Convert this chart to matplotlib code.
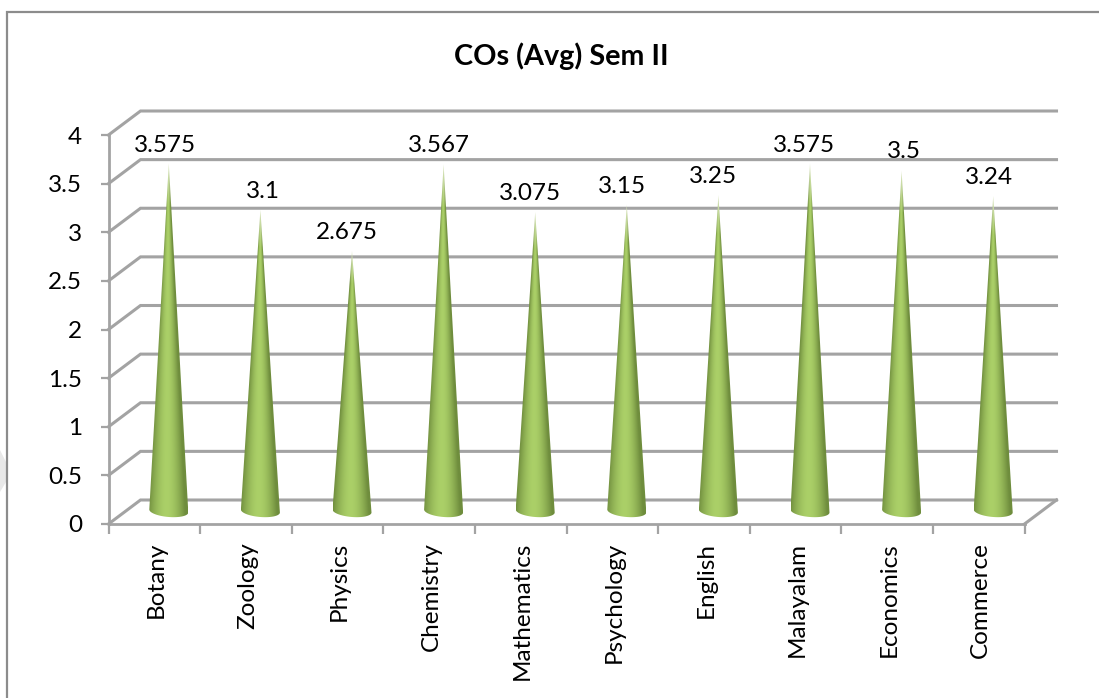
import numpy as np
import matplotlib
matplotlib.use("Agg")
import matplotlib.pyplot as plt
from matplotlib.lines import Line2D
from matplotlib.patches import Polygon
from matplotlib.colors import to_rgb
from matplotlib.transforms import ScaledTranslation

subjects = ["Botany", "Zoology", "Physics", "Chemistry", "Mathematics",
            "Psychology", "English", "Malayalam", "Economics", "Commerce"]
values = [3.575, 3.1, 2.675, 3.567, 3.075, 3.15, 3.25, 3.575, 3.5, 3.24]
value_labels = ["3.575", "3.1", "2.675", "3.567", "3.075", "3.15", "3.25", "3.575", "3.5", "3.24"]
yticks = [0, 0.5, 1, 1.5, 2, 2.5, 3, 3.5, 4]
ytick_labels = ["0", "0.5", "1", "1.5", "2", "2.5", "3", "3.5", "4"]

W, H = 1099, 698
GREY = "#a3a3a3"
plt.rcParams["font.family"] = ["Lato", "DejaVu Sans"]

fig = plt.figure(figsize=(W / 100, H / 100), dpi=100, facecolor="white")
ax = fig.add_axes([108.5 / W, 1 - 524 / H, 916 / W, 389 / H])
ax.set_xlim(0, 10)
ax.set_ylim(0, 4)
ax.patch.set_visible(False)

# depth of the fake 3d box, in data units
depth_x = 32 / 91.6
depth_y = 24 / 97.25


def fig_line(xs, ys, **kw):
    fig.add_artist(Line2D([x / W for x in xs], [1 - y / H for y in ys], **kw))


# outer chart border, only left and top show
fig_line([7, 7, 1099], [698, 12, 12], color="#8c8c8c", lw=1.6, solid_joinstyle="miter")
fig.add_artist(Polygon([(0, 1 - 450 / H), (6 / W, 1 - 462 / H), (6 / W, 1 - 482 / H), (0, 1 - 492 / H)],
                       closed=True, transform=fig.transFigure, fc="#e8e8e8", ec="none"))

# back wall and side wall
for v in yticks:
    ax.plot([0, depth_x, 10 + depth_x], [v, v + depth_y, v + depth_y], color=GREY, lw=2.2,
            clip_on=False, solid_joinstyle="miter", zorder=1)
ax.plot([10, 10 + depth_x], [0, depth_y], color=GREY, lw=2.2, clip_on=False, zorder=1)

# cones
edge = np.array(to_rgb("#6f8d3d"))
mid = np.array(to_rgb("#abd068"))
half_w = 19.5 / 91.6
ry = 6 / 97.25
tilt = 1.5 / 97.25
base_y = 13 / 97.25
cone_shift = depth_x / 2 - 1.5 / 91.6
for i, v in enumerate(values):
    cx = i + 0.5 + cone_shift
    tip = base_y + v
    t = np.linspace(np.pi, 2 * np.pi, 40)
    arc_x = cx + half_w * np.cos(t)
    arc_y = base_y + ry * np.sin(t) - tilt * np.cos(t)
    poly = Polygon(np.vstack([[cx, tip], np.column_stack([arc_x, arc_y])]), closed=True,
                   transform=ax.transData, fc="none", ec="none")
    ax.add_patch(poly)
    # horizontal shading scaled to the cone width on each row
    rows = np.linspace(1, 0, 400)[:, None]
    cols = np.linspace(-1, 1, 120)[None, :]
    local = np.clip(1 - rows, 0.004, 1)
    u = np.clip(np.abs(cols / local + 0.1), 0, 1) ** 1.8
    img = mid[None, None, :] * (1 - u[..., None]) + edge[None, None, :] * u[..., None]
    fade = np.clip((1 - rows) / 0.12, 0, 1)[..., None]
    img = img * fade + np.array([0.88, 0.92, 0.78]) * (1 - fade)
    im = ax.imshow(img, extent=[cx - half_w, cx + half_w, -0.02, tip], aspect="auto",
                   interpolation="bilinear", zorder=3)
    im.set_clip_path(poly)

ax.set_xlim(0, 10)
ax.set_ylim(0, 4)

# value labels sit just above the tips
nudge_x = [-3.5, 2.5, -5.5, -4.5, -5.5, -4.5, -5.5, -6.5, 2.5, -4.5]
nudge_y = [0, 0, 0, 0, 0, 0, 0, 0, 1, 0]
for i, v in enumerate(values):
    ax.annotate(value_labels[i], (i + 0.5 + cone_shift, base_y + v),
                xytext=(nudge_x[i] * 0.72, 5.5 + nudge_y[i] * 0.72), textcoords="offset points",
                ha="center", va="bottom", fontsize=17.5, color="black", zorder=5,
                annotation_clip=False)

for side in ["top", "right"]:
    ax.spines[side].set_visible(False)
for side in ["left", "bottom"]:
    ax.spines[side].set_color(GREY)
    ax.spines[side].set_linewidth(2.0)

ax.set_yticks(yticks)
ax.set_yticklabels(ytick_labels, fontsize=17.5, color="black")
ax.tick_params(axis="y", length=6, width=1.6, color=GREY, pad=13)
ax.set_xticks(range(11))
ax.set_xticklabels([])
ax.set_xticks(np.arange(10) + 0.5, minor=True)
ax.set_xticklabels(subjects, minor=True, rotation=90, fontsize=17.5, color="black")
ax.tick_params(axis="x", which="major", length=7, width=1.6, color=GREY)
ax.tick_params(axis="x", which="minor", length=0, pad=13)
for lab in ax.get_xticklabels(minor=True):
    lab.set_transform(lab.get_transform() + ScaledTranslation(2 / 100, 0, fig.dpi_scale_trans))

fig.text(561 / W, 1 - 56 / H, "COs (Avg) Sem II", ha="center", va="center",
         fontsize=20.7, fontweight="bold", color="black")

fig.savefig("out.png", dpi=100)
